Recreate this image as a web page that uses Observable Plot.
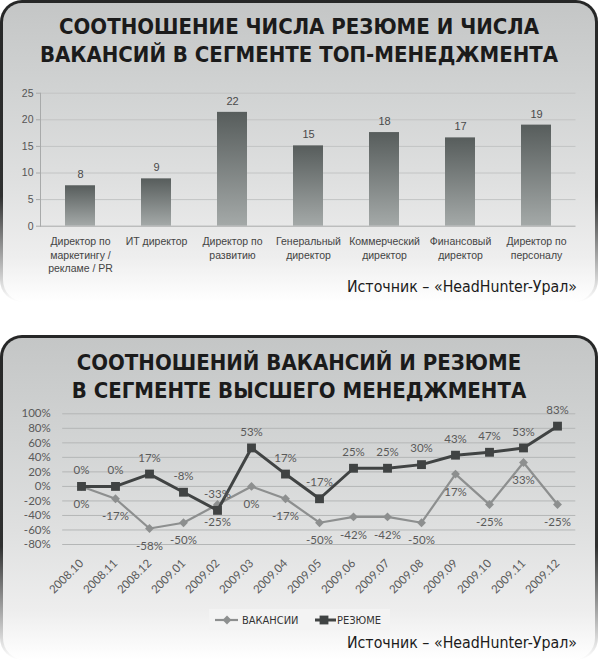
<!DOCTYPE html>
<html><head><meta charset="utf-8">
<script src="https://cdn.jsdelivr.net/npm/d3@7"></script>
<script src="https://cdn.jsdelivr.net/npm/@observablehq/plot@0.6"></script>
<style>
html,body{margin:0;padding:0;background:#fff;}
body{width:598px;height:660px;position:relative;overflow:hidden;}
.panel{position:absolute;left:0;width:598px;border-radius:22px;
  background:linear-gradient(to bottom,#262727 0%,#2f3030 65%,rgba(255,255,255,0) 100%);}
.panel .inner{position:absolute;left:3px;right:3px;top:3px;bottom:0;border-radius:19px 19px 22px 22px;
  background:linear-gradient(to bottom,#c4c6c6 0%,#d1d3d3 30%,#dfe0e0 60%,#eeeeee 85%,#ffffff 100%);}
.title{position:absolute;left:0;width:598px;text-align:center;font-family:"DejaVu Sans Condensed","DejaVu Sans",sans-serif;
  font-weight:bold;font-size:22px;line-height:28px;color:#1b1b1b;white-space:nowrap;}
.src{position:absolute;right:21px;font-family:"DejaVu Sans Condensed","DejaVu Sans",sans-serif;font-size:15.8px;line-height:18px;color:#1b1b1b;white-space:nowrap;}
.chart{position:absolute;left:0;}
.legend{position:absolute;left:209px;top:609px;width:181px;height:21px;background:#f3f3f3;}
</style>
</head><body>
<div class="panel" style="top:0;height:302px"><div class="inner"></div></div>
<div class="panel" style="top:335px;height:325px"><div class="inner"></div></div>
<div class="title" style="top:13px">СООТНОШЕНИЕ ЧИСЛА РЕЗЮМЕ И ЧИСЛА<br>ВАКАНСИЙ В СЕГМЕНТЕ ТОП-МЕНЕДЖМЕНТА</div>
<div class="chart" id="chart1" style="top:80px"></div>
<div class="src" style="top:278px">Источник – «HeadHunter-Урал»</div>
<div class="title" style="top:349px">СООТНОШЕНИЙ ВАКАНСИЙ И РЕЗЮМЕ<br>В СЕГМЕНТЕ ВЫСШЕГО МЕНЕДЖМЕНТА</div>
<div class="chart" id="chart2" style="top:400px"></div>
<div class="legend" id="legend"></div>
<div class="src" style="top:634px">Источник – «HeadHunter-Урал»</div>
<script>
// ---- Chart 1 data ----
const categories = ["Директор по маркетингу / рекламе / PR", "ИТ директор", "Директор по развитию", "Генеральный директор", "Коммерческий директор", "Финансовый директор", "Директор по персоналу"];
const categoryLabels = ["Директор по\nмаркетингу /\nрекламе / PR", "ИТ директор", "Директор по\nразвитию", "Генеральный\nдиректор", "Коммерческий\nдиректор", "Финансовый\nдиректор", "Директор по\nперсоналу"];
const ratioValues = [7.6, 8.9, 21.4, 15.1, 17.6, 16.6, 19.0];
const ratioLabels = ["8", "9", "22", "15", "18", "17", "19"];
const barTicks = [0, 5, 10, 15, 20, 25];

// ---- Chart 2 data ----
const months = ["2008.10", "2008.11", "2008.12", "2009.01", "2009.02", "2009.03", "2009.04", "2009.05", "2009.06", "2009.07", "2009.08", "2009.09", "2009.10", "2009.11", "2009.12"];
const vacancies = [0, -17, -58, -50, -25, 0, -17, -50, -42, -42, -50, 17, -25, 33, -25];
const resumes = [0, 0, 17, -8, -33, 53, 17, -17, 25, 25, 30, 43, 47, 53, 83];
const pctTicks = [-80, -60, -40, -20, 0, 20, 40, 60, 80, 100];
const seriesNames = ["ВАКАНСИИ", "РЕЗЮМЕ"];
const seriesColors = ["#8d8f8f", "#404343"];

const barData = categories.map((c, i) => ({cat: c, value: ratioValues[i], text: ratioLabels[i]}));
const labelOf = new Map(categories.map((c, i) => [c, categoryLabels[i]]));

const chart1 = Plot.plot({
  width: 598, height: 200,
  marginLeft: 40, marginRight: 22.5, marginTop: 12.7, marginBottom: 54.3,
  style: {background: "transparent", fontFamily: "'Liberation Sans', Arial, sans-serif", fontSize: "10.5px", color: "#444", overflow: "visible"},
  x: {domain: categories, paddingInner: 0.6, paddingOuter: 0.3},
  y: {domain: [0, 25]},
  marks: [
    Plot.ruleY(barTicks.slice(1), {stroke: "#c2c4c4"}),
    Plot.barY(barData, {x: "cat", y: "value", fill: "url(#barGrad)"}),
    Plot.text(barData, {x: "cat", y: "value", text: "text", dy: -11, fill: "#4a4a4a", fontSize: 11}),
    Plot.ruleY([0], {stroke: "#a8aaaa"}),
    Plot.frame({anchor: "left", stroke: "#a8aaaa"}),
    Plot.axisY({ticks: barTicks, label: null, tickSize: 4, tickPadding: 3, stroke: "#a8aaaa", fill: "#555", fontSize: 10.5}),
    Plot.axisX({label: null, tickSize: 0, tickPadding: 9, tickFormat: d => labelOf.get(d), lineHeight: 1.3, fill: "#444", fontSize: 10.5})
  ]
});
const defs = d3.select(chart1).insert("defs", ":first-child");
const grad = defs.append("linearGradient").attr("id", "barGrad").attr("x1", 0).attr("y1", 0).attr("x2", 0).attr("y2", 1);
grad.append("stop").attr("offset", "0%").attr("stop-color", "#575d5c");
grad.append("stop").attr("offset", "100%").attr("stop-color", "#a4a9a8");
document.getElementById("chart1").appendChild(chart1);

const monthData = months.map((m, i) => ({m, vac: vacancies[i], res: resumes[i]}));
const chart2 = Plot.plot({
  width: 598, height: 200,
  marginLeft: 62.2, marginRight: 22.7, marginTop: 13.3, marginBottom: 56,
  style: {background: "transparent", fontFamily: "Lato, 'Open Sans', sans-serif", fontSize: "11.5px", color: "#5a5a5a", overflow: "visible"},
  x: {type: "point", domain: months, padding: 0.5},
  y: {domain: [-80, 100]},
  marks: [
    Plot.ruleY(pctTicks, {stroke: "#b4b6b6"}),
    Plot.lineY(monthData, {x: "m", y: "vac", stroke: seriesColors[0], strokeWidth: 2.2}),
    Plot.dot(monthData, {x: "m", y: "vac", symbol: "diamond2", r: 4, fill: seriesColors[0], stroke: "none"}),
    Plot.lineY(monthData, {x: "m", y: "res", stroke: seriesColors[1], strokeWidth: 3}),
    Plot.dot(monthData, {x: "m", y: "res", symbol: "square", r: 5, fill: seriesColors[1], stroke: "none"}),
    Plot.text(monthData, {x: "m", y: "vac", text: d => d.vac + "%", dy: 18, fill: "#5a5a5a", fontSize: 11.5}),
    Plot.text(monthData, {x: "m", y: "res", text: d => d.res + "%", dy: -16, fill: "#5a5a5a", fontSize: 11.5}),
    Plot.axisY({ticks: pctTicks, label: null, tickSize: 0, tickPadding: 12, tickFormat: d => d + "%", fill: "#5a5a5a", fontSize: 11.5}),
    Plot.axisX({label: null, tickSize: 0, tickPadding: 17, tickRotate: -45, fill: "#5a5a5a", fontSize: 11.5})
  ]
});
document.getElementById("chart2").appendChild(chart2);

// legend
const lg = d3.select("#legend").append("svg").attr("width", 181).attr("height", 21)
  .style("font-family", "'DejaVu Sans Condensed', sans-serif").style("font-size", "11px");
const g0 = lg.append("g");
g0.append("line").attr("x1", 6).attr("x2", 29).attr("y1", 11).attr("y2", 11).attr("stroke", seriesColors[0]).attr("stroke-width", 2.2);
g0.append("path").attr("d", d3.symbol(d3.symbolDiamond2, 50)()).attr("transform", "translate(18,11)").attr("fill", seriesColors[0]);
g0.append("text").attr("x", 33).attr("y", 15).attr("fill", "#333").text(seriesNames[0]);
const g1 = lg.append("g");
g1.append("line").attr("x1", 106).attr("x2", 127).attr("y1", 11).attr("y2", 11).attr("stroke", seriesColors[1]).attr("stroke-width", 3);
g1.append("path").attr("d", d3.symbol(d3.symbolSquare, 78)()).attr("transform", "translate(115,11)").attr("fill", seriesColors[1]);
g1.append("text").attr("x", 128).attr("y", 15).attr("fill", "#333").text(seriesNames[1]);
</script>
</body></html>
